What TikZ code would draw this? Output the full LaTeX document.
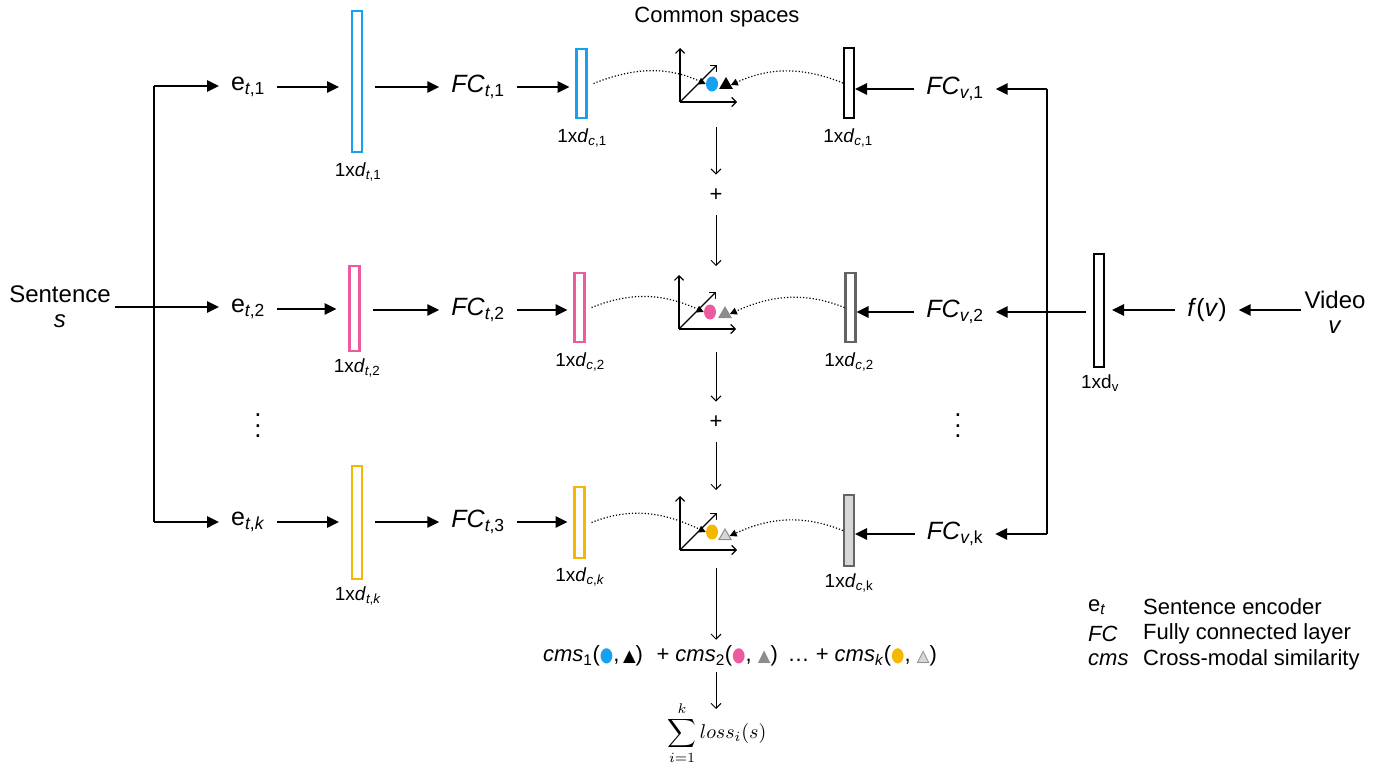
\documentclass[tikz,border=0pt]{standalone}
\usepackage{fontspec}
\setmainfont{Liberation Sans}
\newfontfamily\symfont{DejaVu Sans}
\usetikzlibrary{arrows.meta,shapes.geometric}
\definecolor{cblue}{RGB}{22,160,240}
\definecolor{cpink}{RGB}{236,90,160}
\definecolor{cyellow}{RGB}{245,184,0}
\definecolor{cgray}{RGB}{140,140,140}
\definecolor{clgray}{RGB}{215,215,215}
\definecolor{cdgray}{RGB}{100,100,100}
\newcommand{\sbs}[1]{\textsubscript{#1}}
\newcommand{\vi}[1]{\textit{#1}}
\newcommand{\sdot}[1]{{\symfont\textcolor{#1}{\scalebox{0.7}[0.9]{●}}}}
\newcommand{\stri}[1]{{\symfont\textcolor{#1}{\scalebox{0.75}{▲}}}}
\newcommand{\otri}{{\symfont\scalebox{0.75}{\makebox[0pt][l]{\textcolor{clgray}{▲}}\textcolor{cgray}{△}}}}
\begin{document}
\begin{tikzpicture}[x=1pt,y=-1pt,
  txt/.style={inner sep=0pt, outer xsep=12pt, font=\fontsize{25}{29}\selectfont},
  lab/.style={inner sep=0pt, font=\fontsize{19}{22}\selectfont},
  leg/.style={inner sep=0pt, anchor=west, font=\fontsize{22}{26}\selectfont},
  vbar/.style={draw, line width=2.5pt, minimum width=10pt, inner sep=0pt, fill=white},
  arr/.style={line width=2.6pt, -{Triangle[length=12pt,width=11pt]}},
  ln/.style={line width=2.6pt},
  tarr/.style={line width=1pt, -{Straight Barb[length=5pt,width=10pt]}},
  axis/.style={line width=1.2pt, -{Straight Barb[length=4.5pt,width=9pt]}},
  dotc/.style={dotted, line width=1.2pt, -{Triangle[length=7pt,width=7pt]}},
  pdot/.style={ellipse, inner sep=0pt, minimum width=12pt, minimum height=15pt},
  tri/.style={regular polygon, regular polygon sides=3, inner sep=0pt, minimum size=16pt},
  plus/.style={inner sep=0pt, outer ysep=14pt, font=\fontsize{22}{26}\selectfont}
]
\useasboundingbox (0,0) rectangle (1392,765);

% ---------------- left: sentence ----------------
\node[txt, align=center, outer xsep=4pt, font=\fontsize{24}{28}\selectfont] (sent) at (60,307) {Sentence\\[-3pt]\vi{s}};
\coordinate (L1) at (154,86);
\coordinate (Lk) at (154,522);
\draw[ln] (L1) -- (Lk);

\node[txt] (et1) at (248,87) {e\sbs{\vi{t},1}};
\node[txt] (et2) at (248,309) {e\sbs{\vi{t},2}};
\node[txt] (et3) at (248,522) {e\sbs{\vi{t},\vi{k}}};
\draw[arr] (L1) -- (L1 -| et1.west);
\draw[arr] (sent.east |- 0,307) -- (et2.west |- 0,307);
\draw[arr] (Lk) -- (Lk -| et3.west);

\node[inner sep=0pt] (vd1) at (258,418) {\scalebox{2.6}{\boldmath$\vdots$}};
\node[inner sep=0pt] (vd2) at (958,418) {\scalebox{2.6}{\boldmath$\vdots$}};

% text-encoder bars
\node[vbar, draw=cblue, minimum height=141pt, outer xsep=13pt] (bt1) at (357,81.5) {};
\node[vbar, draw=cpink, minimum height=85pt, outer xsep=13pt] (bt2) at (354.5,308.5) {};
\node[vbar, draw=cyellow, minimum height=113pt, outer xsep=13pt] (bt3) at (357,522.5) {};
\node[lab] (lt1) at (358,172) {1x\vi{d}\sbs{\vi{t},1}};
\node[lab] (lt2) at (357,368) {1x\vi{d}\sbs{\vi{t},2}};
\node[lab] (lt3) at (358,596) {1x\vi{d}\sbs{\vi{t},\vi{k}}};
\draw[arr] (et1.east) -- (et1.east -| bt1.west);
\draw[arr] (et2.east) -- (et2.east -| bt2.west);
\draw[arr] (et3.east) -- (et3.east -| bt3.west);

\node[txt] (ft1) at (478,87) {\vi{FC}\sbs{\vi{t},1}};
\node[txt] (ft2) at (478,310) {\vi{FC}\sbs{\vi{t},2}};
\node[txt] (ft3) at (478,522) {\vi{FC}\sbs{\vi{t},3}};
\draw[arr] (bt1.east |- ft1) -- (ft1.west);
\draw[arr] (bt2.east |- ft2) -- (ft2.west);
\draw[arr] (bt3.east |- ft3) -- (ft3.west);

% small common-space bars (text)
\node[vbar, draw=cblue, minimum height=69pt, outer xsep=7pt] (bs1) at (581.5,83.5) {};
\node[vbar, draw=cpink, minimum height=69pt, outer xsep=7pt] (bs2) at (579.5,307.5) {};
\node[vbar, draw=cyellow, minimum height=71pt, outer xsep=7pt] (bs3) at (579.5,522.5) {};
\node[lab] (ls1) at (582,138) {1x\vi{d}\sbs{\vi{c},1}};
\node[lab] (ls2) at (580,362) {1x\vi{d}\sbs{\vi{c},2}};
\node[lab] (ls3) at (580,577) {1x\vi{d}\sbs{\vi{c},\vi{k}}};
\draw[arr] (ft1.east) -- (ft1.east -| bs1.west);
\draw[arr] (ft2.east) -- (ft2.east -| bs2.west);
\draw[arr] (ft3.east) -- (ft3.east -| bs3.west);

% ---------------- common spaces ----------------
\node[inner sep=0pt, font=\fontsize{22}{26}\selectfont] (title) at (717,17) {Common spaces};

% axes row 1
\coordinate (o1) at (680,102);
\draw[axis] (o1) -- ++(0,-54);
\draw[axis] (o1) -- ++(57,0);
\draw[axis] (o1) -- ++(37,-37);
\node[pdot, fill=cblue] (d1) at (712,84) {};
\node[tri, fill=black] (t1) at (726,85) {};
% axes row 2
\coordinate (o2) at (679,329);
\draw[axis] (o2) -- ++(0,-54);
\draw[axis] (o2) -- ++(57,0);
\draw[axis] (o2) -- ++(37,-37);
\node[pdot, fill=cpink] (d2) at (710,312) {};
\node[tri, fill=cgray] (t2) at (725,314) {};
% axes row 3
\coordinate (o3) at (680,550);
\draw[axis] (o3) -- ++(0,-54);
\draw[axis] (o3) -- ++(57,0);
\draw[axis] (o3) -- ++(37,-37);
\node[pdot, fill=cyellow] (d3) at (712,532) {};
\node[tri, fill=clgray, draw=cgray, line width=1pt, minimum size=14pt] (t3) at (725,536) {};

% dotted curves
\draw[dotc] (bs1.east) .. controls +(45,-18) and +(-35,-16) .. (d1.west);
\draw[dotc] (bs2.east) .. controls +(45,-18) and +(-35,-16) .. (d2.west);
\draw[dotc] (bs3.east) .. controls +(45,-18) and +(-35,-16) .. (d3.west);

% right common-space bars (video)
\node[vbar, draw=black, line width=2.8pt, minimum height=70pt, outer xsep=1pt] (bc1) at (849,83) {};
\node[vbar, draw=cdgray, minimum height=69pt, outer xsep=1pt] (bc2) at (850.5,307.5) {};
\node[vbar, draw=cdgray, fill=clgray, minimum height=71pt, outer xsep=1pt] (bc3) at (849,530.5) {};
\node[lab] (lc1) at (848,138) {1x\vi{d}\sbs{\vi{c},1}};
\node[lab] (lc2) at (849,362) {1x\vi{d}\sbs{\vi{c},2}};
\node[lab] (lc3) at (849,583) {1x\vi{d}\sbs{\vi{c},k}};
\draw[dotc] (bc1.west) .. controls +(-45,-18) and +(35,-16) .. (t1.east);
\draw[dotc] (bc2.west) .. controls +(-45,-18) and +(35,-16) .. (t2.east);
\draw[dotc] (bc3.west) .. controls +(-45,-18) and +(35,-16) .. (t3.east);

% centre column
\coordinate (c1b) at (716,127);
\node[plus] (p1) at (716,195) {+};
\coordinate (c2t) at (716,266);
\coordinate (c2b) at (716,352);
\node[plus] (p2) at (716,422) {+};
\coordinate (c3t) at (716,490);
\coordinate (c3b) at (716,568);
\draw[tarr] (c1b) -- (p1);
\draw[tarr] (p1) -- (c2t);
\draw[tarr] (c2b) -- (p2);
\draw[tarr] (p2) -- (c3t);

\node[inner sep=0pt, outer ysep=6pt, font=\fontsize{22}{26}\selectfont] (cms) at (740,656)
  {\vi{cms}\sbs{1}(\sdot{cblue},\,\stri{black})\,\, + \vi{cms}\sbs{2}(\sdot{cpink}, \stri{cgray}) \,… + \vi{cms}\sbs{\vi{k}}(\sdot{cyellow}, \otri)};
\draw[tarr] (c3b) -- (c3b |- cms.north);
\node[inner sep=0pt] (sum) at (717,733) {\scalebox{2}{$\displaystyle\sum_{i=1}^{k} loss_i(s)$}};
\coordinate (sumtop) at (716,709);
\draw[tarr] (cms.south -| c3b) -- (sumtop);

% ---------------- right: video ----------------
\node[txt] (fv1) at (955,89) {\vi{FC}\sbs{\vi{v},1}};
\node[txt] (fv2) at (955,312) {\vi{FC}\sbs{\vi{v},2}};
\node[txt] (fv3) at (955,534) {\vi{FC}\sbs{\vi{v},k}};
\draw[arr] (fv1.west) -- (fv1.west -| bc1.east);
\draw[arr] (fv2.west) -- (fv2.west -| bc2.east);
\draw[arr] (fv3.west) -- (fv3.west -| bc3.east);

\coordinate (R1) at (1047,89);
\coordinate (Rk) at (1047,534);
\draw[ln] (R1) -- (Rk);
\draw[arr] (R1) -- (R1 -| fv1.east);
\draw[arr] (Rk) -- (Rk -| fv3.east);

\node[vbar, draw=black, minimum height=113pt, outer xsep=8pt] (bv) at (1099,310.5) {};
\node[lab] (lv) at (1100,383) {1xd\sbs{v}};
\draw[arr] (bv.west |- fv2) -- (fv2.east);

\node[txt] (fx) at (1207,310) {\vi{f}(\vi{v})};
\node[txt, align=center, outer xsep=4pt, font=\fontsize{24}{28}\selectfont] (vid) at (1335,312) {Video\\[-3pt]\vi{v}};
\draw[arr] (fx.west) -- (fx.west -| bv.east);
\draw[arr] (vid.west |- fx) -- (fx.east);

% ---------------- legend ----------------
\node[leg] (k1) at (1088,607) {e\sbs{\vi{t}}};
\node[leg] (k2) at (1088,634) {\vi{FC}};
\node[leg] (k3) at (1088,660) {\vi{cms}};
\node[leg] (v1) at (1143,607) {Sentence encoder};
\node[leg] (v2) at (1143,634) {Fully connected layer};
\node[leg] (v3) at (1143,660) {Cross-modal similarity};
\end{tikzpicture}
\end{document}
